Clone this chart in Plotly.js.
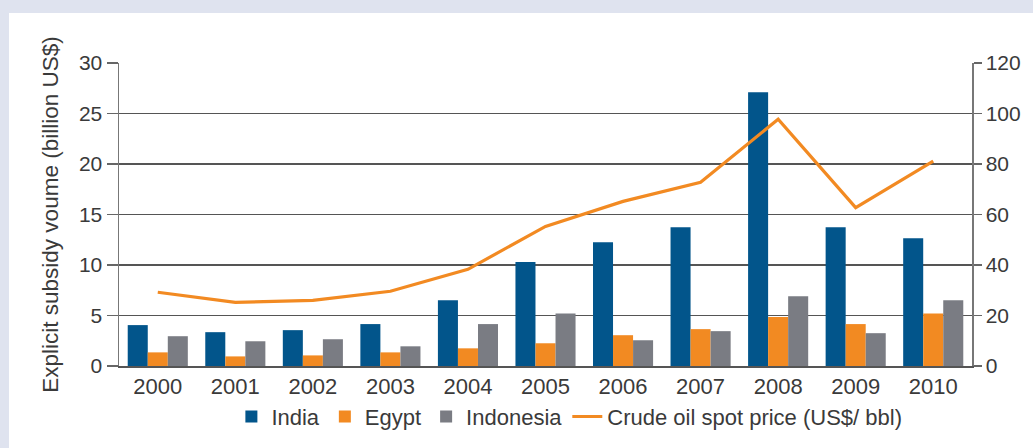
<!DOCTYPE html>
<html>
<head>
<meta charset="utf-8">
<script src="https://cdn.plot.ly/plotly-3.0.1.min.js"></script>
<style>
  html, body { margin: 0; padding: 0; background: #dfe3ef; width: 1033px; height: 448px; overflow: hidden; }
  #chart { position: absolute; left: 9px; top: 13px; width: 1024px; height: 435px; }
</style>
</head>
<body>
<div id="chart"></div>
<script>
const years = ['2000','2001','2002','2003','2004','2005','2006','2007','2008','2009','2010'];
const india = [4.05, 3.35, 3.55, 4.15, 6.5, 10.3, 12.25, 13.75, 27.1, 13.75, 12.65];
const egypt = [1.35, 0.95, 1.05, 1.35, 1.75, 2.25, 3.05, 3.65, 4.85, 4.15, 5.2];
const indonesia = [2.95, 2.45, 2.65, 1.95, 4.15, 5.2, 2.55, 3.45, 6.9, 3.25, 6.5];
const oilPrice = [29.2, 25.2, 26.0, 29.6, 38.3, 55.3, 65.2, 72.8, 97.7, 62.7, 81.1];
const leftTicks = [0, 5, 10, 15, 20, 25, 30];
const rightTicks = [0, 20, 40, 60, 80, 100, 120];

const txt = '#3a3a3a';
const traces = [
  {type: 'bar', name: 'India', x: years, y: india, marker: {color: '#02558b'}},
  {type: 'bar', name: 'Egypt', x: years, y: egypt, marker: {color: '#f28a22'}},
  {type: 'bar', name: 'Indonesia', x: years, y: indonesia, marker: {color: '#7a7c83'}},
  {type: 'scatter', mode: 'lines', name: 'Crude oil spot price (US$/ bbl)', x: years, y: oilPrice,
   yaxis: 'y2', line: {color: '#f28a22', width: 3.2}}
];

const layout = {
  width: 1024, height: 435,
  margin: {l: 110, r: 61, t: 50, b: 82, autoexpand: false},
  paper_bgcolor: '#ffffff', plot_bgcolor: '#ffffff',
  font: {family: '"Liberation Sans", Arial, sans-serif', size: 21, color: txt},
  barmode: 'group', bargap: 0.225, bargroupgap: 0,
  showlegend: true,
  legend: {orientation: 'h', x: 0.528, xanchor: 'center', yref: 'container', y: 0.072, yanchor: 'middle',
           font: {size: 22, color: txt}, traceorder: 'normal', itemwidth: 30},
  xaxis: {type: 'category', showline: true, linecolor: '#555', linewidth: 1.5,
          ticks: '', tickfont: {size: 22, color: txt}, showgrid: false, zeroline: false},
  yaxis: {range: [0, 30], tickvals: leftTicks, showgrid: true, gridcolor: '#555', gridwidth: 1.3,
          showline: true, linecolor: '#777', linewidth: 1.5, ticks: 'outside', ticklen: 11,
          tickcolor: '#666', tickwidth: 1.3, zeroline: false, tickfont: {size: 21, color: txt},
          title: {text: 'Explicit subsidy voume (billion US$)', font: {size: 22.5, color: txt}, standoff: 14}},
  yaxis2: {range: [0, 120], tickvals: rightTicks, overlaying: 'y', side: 'right', showgrid: false,
           showline: true, linecolor: '#777', linewidth: 1.5, ticks: 'outside', ticklen: 8,
           tickcolor: '#666', tickwidth: 1.3, zeroline: false, tickfont: {size: 21, color: txt}}
};

Plotly.newPlot('chart', traces, layout, {staticPlot: true, displayModeBar: false});
</script>
</body>
</html>
